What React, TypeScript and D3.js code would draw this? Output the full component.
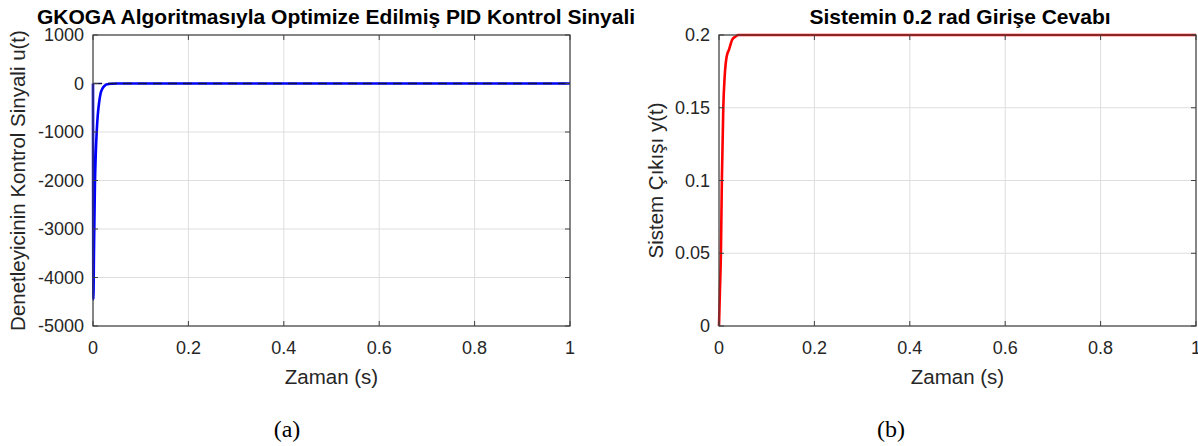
import React from 'react';
import * as d3 from 'd3';

// control signal u(t) of panel (a)
const uTime = [0, 0.0008, 0.002, 0.004, 0.006, 0.008, 0.01, 0.013, 0.016, 0.02, 0.025, 0.03, 0.04, 0.05, 1];
const uValue = [0, -4450, -3500, -2100, -1400, -950, -650, -380, -200, -100, -40, -15, -4, 0, 0];

// system response y(t) of panel (b)
const yTime = [0, 0.002, 0.004, 0.006, 0.009, 0.012, 0.016, 0.021, 0.028, 0.035, 0.04, 1];
const yValue = [0, 0.025, 0.05, 0.1, 0.15, 0.172, 0.185, 0.19, 0.197, 0.199, 0.2, 0.2];

const xTicks = [0, 0.2, 0.4, 0.6, 0.8, 1];
const uTicks = [1000, 0, -1000, -2000, -3000, -4000, -5000];
const yTicks = [0, 0.05, 0.1, 0.15, 0.2];

const FONT = '"Liberation Sans", Arial, Helvetica, sans-serif';
const AXIS = '#404040';
const GRID = '#dedede';
const TXT = '#262626';

type PanelProps = {
  left: number; right: number; top: number; bottom: number;
  xs: number[]; ys: number[]; yDomain: [number, number]; yTickVals: number[];
  color: string; title: string; titleX: number; yLabel: string; yLabelX: number; zeroRef?: boolean;
  caption: string; captionX: number;
};

function Panel(p: PanelProps) {
  const x = d3.scaleLinear().domain([0, 1]).range([p.left, p.right]);
  const y = d3.scaleLinear().domain(p.yDomain).range([p.bottom, p.top]);
  const pts = p.xs.map((t, i) => [t, p.ys[i]] as [number, number]);
  const line = d3.line<[number, number]>().x(d => x(d[0])).y(d => y(d[1])).curve(d3.curveMonotoneX)(pts) || '';
  const tl = 5;
  const cx = (p.left + p.right) / 2;
  const cy = (p.top + p.bottom) / 2;
  return (
    <g>
      {/* grid */}
      {xTicks.map(t => (
        <line key={'gx' + t} x1={x(t)} x2={x(t)} y1={p.top} y2={p.bottom} stroke={GRID} strokeWidth={1} />
      ))}
      {p.yTickVals.map(t => (
        <line key={'gy' + t} x1={p.left} x2={p.right} y1={y(t)} y2={y(t)} stroke={GRID} strokeWidth={1} />
      ))}
      {/* data */}
      <path d={line} fill="none" stroke={p.color} strokeWidth={2.6} strokeLinejoin="round" />
      {p.zeroRef && (
        <line x1={x(0)} x2={x(1)} y1={y(0)} y2={y(0)} stroke="#10104a" strokeWidth={1.4} strokeDasharray="9,6" />
      )}
      {/* box */}
      <rect x={p.left} y={p.top} width={p.right - p.left} height={p.bottom - p.top} fill="none" stroke={AXIS} strokeWidth={1.2} />
      {xTicks.map(t => (
        <g key={'tx' + t}>
          <line x1={x(t)} x2={x(t)} y1={p.bottom} y2={p.bottom - tl} stroke={AXIS} />
          <line x1={x(t)} x2={x(t)} y1={p.top} y2={p.top + tl} stroke={AXIS} />
          <text x={x(t)} y={354} textAnchor="middle" fontSize={18} fill={TXT} fontFamily={FONT}>{t}</text>
        </g>
      ))}
      {p.yTickVals.map(t => (
        <g key={'ty' + t}>
          <line x1={p.left} x2={p.left + tl} y1={y(t)} y2={y(t)} stroke={AXIS} />
          <line x1={p.right} x2={p.right - tl} y1={y(t)} y2={y(t)} stroke={AXIS} />
          <text x={p.left - 9} y={y(t) + 6} textAnchor="end" fontSize={18} fill={TXT} fontFamily={FONT}>{t}</text>
        </g>
      ))}
      <text x={p.titleX} y={24} textAnchor="middle" fontSize={21} fontWeight="bold" fill="#000" fontFamily={FONT}>{p.title}</text>
      <text x={cx} y={384} textAnchor="middle" fontSize={20.5} fill={TXT} fontFamily={FONT}>Zaman (s)</text>
      <text transform={`translate(${p.yLabelX},${cy}) rotate(-90)`} textAnchor="middle" fontSize={20.5} fill={TXT} fontFamily={FONT}>{p.yLabel}</text>
      <text x={p.captionX} y={437} textAnchor="middle" fontSize={24} fill="#000" fontFamily='"Liberation Serif", "Times New Roman", serif'>{p.caption}</text>
    </g>
  );
}

export default function App() {
  return (
    <svg width={1198} height={446} style={{ position: 'absolute', left: 0, top: 0, background: '#fff' }}>
      <Panel left={93} right={570} top={35} bottom={326} xs={uTime} ys={uValue} yDomain={[-5000, 1000]}
        yTickVals={uTicks} color="#0000ff" title="GKOGA Algoritmasıyla Optimize Edilmiş PID Kontrol Sinyali" titleX={336}
        yLabel="Denetleyicinin Kontrol Sinyali u(t)" yLabelX={25} zeroRef caption="(a)" captionX={287} />
      <Panel left={719} right={1196} top={35} bottom={326} xs={yTime} ys={yValue} yDomain={[0, 0.2]}
        yTickVals={yTicks} color="#ff0000" title="Sistemin 0.2 rad Girişe Cevabı" titleX={960}
        yLabel="Sistem Çıkışı y(t)" yLabelX={663} caption="(b)" captionX={891} />
    </svg>
  );
}
